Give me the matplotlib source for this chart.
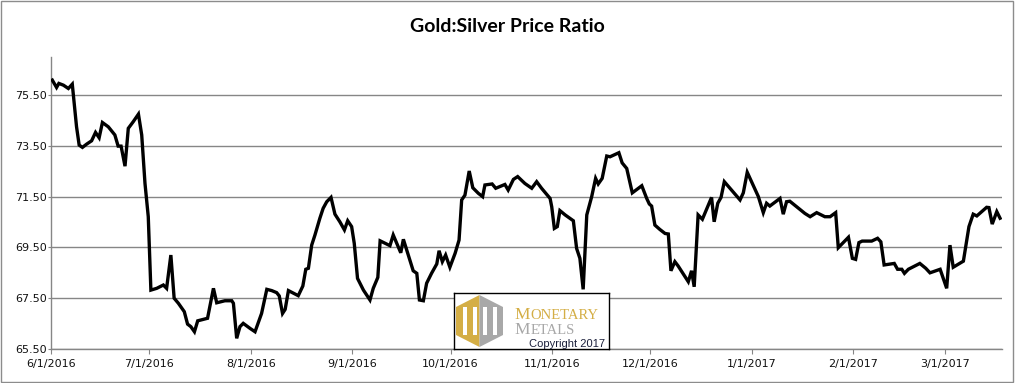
import numpy as np
import matplotlib
matplotlib.use("Agg")
import matplotlib.pyplot as plt
import matplotlib.dates as mdates
from matplotlib.patches import Polygon, Rectangle
from datetime import datetime

# gold:silver ratio (days after 6/1/2016, ratio)
start_date = datetime(2016, 6, 1)
days = [0.4, 1.7, 2.4, 3.8, 5.3, 6.5, 7.3, 7.8, 8.6, 9.6, 10.9, 12.4, 13.6, 14.7,
        15.7, 17.5, 19.5, 20.5, 21.4, 22.6, 23.6, 25.1, 26.7, 27.7, 28.7, 29.7,
        30.5, 32.3, 34.3, 35.3, 36.6, 37.6, 38.9, 40.7, 41.7, 42.7, 43.8, 44.8,
        47.8, 49.6, 50.6, 53.1, 55.2, 55.7, 56.7, 57.7, 58.7, 60.8, 62.3, 64.3,
        65.9, 67.4, 68.9, 69.7, 70.7, 71.5, 72.5, 75.5, 76.9, 77.8, 78.6, 79.6,
        80.6, 82.1, 83.1, 84.2, 85.5, 86.7, 88.2, 89.6, 90.6, 91.8, 92.6, 93.6,
        95.4, 97.4, 98.4, 99.8, 100.5, 103.5, 104.5, 106.8, 107.6, 109.1, 110.6,
        111.7, 112.5, 113.7, 114.7, 116.2, 117.8, 118.5, 119.5, 120.5, 121.8,
        123.4, 124.6, 125.4, 126.4, 127.7, 128.8, 130.5, 131.8, 132.5, 134.7,
        135.8, 138.6, 139.6, 141.2, 142.5, 144.7, 146.8, 148.3, 149.8, 152.4,
        152.9, 153.7, 154.6, 155.4, 157.0, 159.5, 160.5, 161.5, 162.5, 163.6,
        165.1, 166.3, 167.1, 168.3, 169.7, 170.7, 173.4, 174.4, 175.8, 177.5,
        180.4, 181.9, 182.7, 183.4, 184.4, 185.9, 187.5, 188.5, 189.3, 190.5,
        191.5, 194.6, 195.6, 196.4, 197.6, 198.9, 201.7, 202.5, 203.6, 204.6,
        205.6, 210.4, 211.4, 212.6, 216.0, 217.5, 218.5, 219.5, 222.6, 223.6,
        224.6, 225.6, 230.2, 231.8, 233.8, 236.3, 237.9, 239.6, 240.4, 243.5,
        244.7, 245.7, 246.7, 247.7, 250.6, 252.4, 253.4, 254.4, 257.5, 258.5,
        259.8, 260.6, 261.8, 265.3, 267.1, 268.4, 271.5, 273.5, 274.5, 275.5,
        278.6, 280.3, 281.6, 282.7, 285.7, 286.4, 287.4, 288.8, 289.8]
ratio = [76.09, 75.80, 75.96, 75.89, 75.76, 75.93, 74.91, 74.25, 73.53, 73.44, 73.57,
         73.70, 74.03, 73.82, 74.42, 74.25, 73.93, 73.49, 73.49, 72.70, 74.19, 74.45,
         74.75, 73.93, 72.02, 70.71, 67.82, 67.89, 68.02, 67.89, 69.20, 67.50, 67.30,
         66.97, 66.48, 66.38, 66.18, 66.61, 66.71, 67.89, 67.32, 67.40, 67.40, 67.30,
         65.92, 66.38, 66.51, 66.31, 66.18, 66.90, 67.85, 67.80, 67.72, 67.59, 66.90,
         67.06, 67.80, 67.60, 67.98, 68.64, 68.68, 69.59, 69.99, 70.65, 71.04, 71.30,
         71.47, 70.81, 70.51, 70.19, 70.55, 70.32, 69.66, 68.28, 67.82, 67.43, 67.89,
         68.32, 69.76, 69.57, 69.99, 69.29, 69.82, 69.20, 68.58, 68.48, 67.43, 67.40,
         68.09, 68.48, 68.85, 69.37, 68.94, 69.20, 68.72, 69.27, 69.79, 71.37, 71.56,
         72.51, 71.85, 71.63, 71.50, 71.96, 72.00, 71.83, 71.98, 71.76, 72.18, 72.29,
         72.02, 71.83, 72.09, 71.83, 71.43, 71.10, 70.25, 70.32, 70.95, 70.78, 70.55,
         69.46, 69.07, 67.85, 70.78, 71.50, 72.22, 72.00, 72.22, 73.10, 73.07, 73.23,
         72.83, 72.61, 71.65, 71.93, 71.43, 71.21, 71.13, 70.38, 70.21, 70.05, 70.03,
         68.58, 68.94, 68.77, 68.15, 68.58, 67.95, 70.78, 70.61, 71.47, 70.51, 71.24,
         71.47, 72.09, 71.37, 71.65, 72.46, 71.50, 70.87, 71.24, 71.13, 71.43, 70.81,
         71.30, 71.32, 70.84, 70.71, 70.87, 70.71, 70.71, 70.87, 69.49, 69.90, 69.07,
         69.03, 69.69, 69.75, 69.75, 69.86, 69.72, 68.81, 68.87, 68.64, 68.64, 68.48,
         68.64, 68.87, 68.68, 68.50, 68.64, 67.89, 69.59, 68.72, 68.96, 70.32, 70.81,
         70.74, 71.08, 71.07, 70.42, 70.91, 70.65]

month_ticks = [datetime(2016, 6, 1), datetime(2016, 7, 1), datetime(2016, 8, 1),
               datetime(2016, 9, 1), datetime(2016, 10, 1), datetime(2016, 11, 1),
               datetime(2016, 12, 1), datetime(2017, 1, 1), datetime(2017, 2, 1),
               datetime(2017, 3, 1)]
month_labels = ["6/1/2016", "7/1/2016", "8/1/2016", "9/1/2016", "10/1/2016",
                "11/1/2016", "12/1/2016", "1/1/2017", "2/1/2017", "3/1/2017"]
y_ticks = [65.5, 67.5, 69.5, 71.5, 73.5, 75.5]

W, H = 1016, 383
fig = plt.figure(figsize=(W / 100, H / 100), dpi=100)
ax = fig.add_axes([51 / W, 1 - 349 / H, 950.7 / W, 292 / H])

x0 = mdates.date2num(start_date)
x = x0 + np.array(days)
ax.plot(x, ratio, color="black", lw=2.4, solid_joinstyle="miter", zorder=3)

ax.set_xlim(x0, x0 + 290.3)
ax.set_ylim(65.5, 77.0)
ax.set_xticks(mdates.date2num(month_ticks))
ax.set_xticklabels(month_labels, family="DejaVu Sans")
ax.set_yticks(y_ticks)
ax.set_yticklabels(["%.2f" % v for v in y_ticks], family="DejaVu Sans")

grid_c = "#868686"
ax.grid(axis="y", color=grid_c, lw=1.0)
ax.set_axisbelow(True)
for s in ["top", "right"]:
    ax.spines[s].set_visible(False)
for s in ["left", "bottom"]:
    ax.spines[s].set_color(grid_c)
    ax.spines[s].set_linewidth(1.0)
ax.tick_params(axis="x", length=3.5, width=0.8, color=grid_c, pad=4,
               labelsize=8, labelcolor="#111111")
ax.tick_params(axis="y", length=2.5, width=0.8, color=grid_c, pad=0.5,
               labelsize=8, labelcolor="#111111")

fig.text(507 / W, 1 - 27 / H, "Gold:Silver Price Ratio", ha="center", va="center",
         fontsize=14, fontweight="bold", family="Lato")

# outer frame of the chart
fig.patches.append(Rectangle((1 / W, 1 / H), 1012 / W, 381 / H, transform=fig.transFigure,
                             fill=False, edgecolor="#8c8c8c", lw=1.0))

# logo box
lg = fig.add_axes([454.3 / W, 1 - 349 / H, 155 / W, 55.7 / H])
lg.set_xlim(0, 155)
lg.set_ylim(55.7, 0)
lg.set_xticks([])
lg.set_yticks([])
for s in lg.spines.values():
    s.set_color("black")
    s.set_linewidth(1.0)
gold = "#D4AE45"
grey = "#A8A8A8"
lg.add_patch(Polygon([(25.2, 1.7), (1.7, 13.7), (1.7, 41.7), (25.2, 53.7)],
                     closed=True, color=gold, lw=0))
lg.add_patch(Polygon([(25.2, 1.7), (48.7, 13.7), (48.7, 41.7), (25.2, 53.7)],
                     closed=True, color=grey, lw=0))
for bx in [8.4, 18.4, 28.4, 38.4]:
    lg.add_patch(Rectangle((bx, 13.5), 4, 28, color="white", lw=0))

lg.text(59.7, 26.0, "M", color=gold, fontsize=12.5, family="Liberation Serif", va="baseline")
lg.text(76.0, 26.0, "ONETARY", color=gold, fontsize=10.5, family="Liberation Serif",
        va="baseline")
lg.text(59.7, 41.0, "M", color=grey, fontsize=12.5, family="Liberation Serif", va="baseline")
lg.text(76.0, 41.0, "ETALS", color=grey, fontsize=10.5, family="Liberation Serif",
        va="baseline")
lg.text(150.7, 53.3, "Copyright 2017", color="#1a1f3a", fontsize=8,
        family="Liberation Sans", ha="right", va="baseline")

fig.savefig("out.png", dpi=100)
